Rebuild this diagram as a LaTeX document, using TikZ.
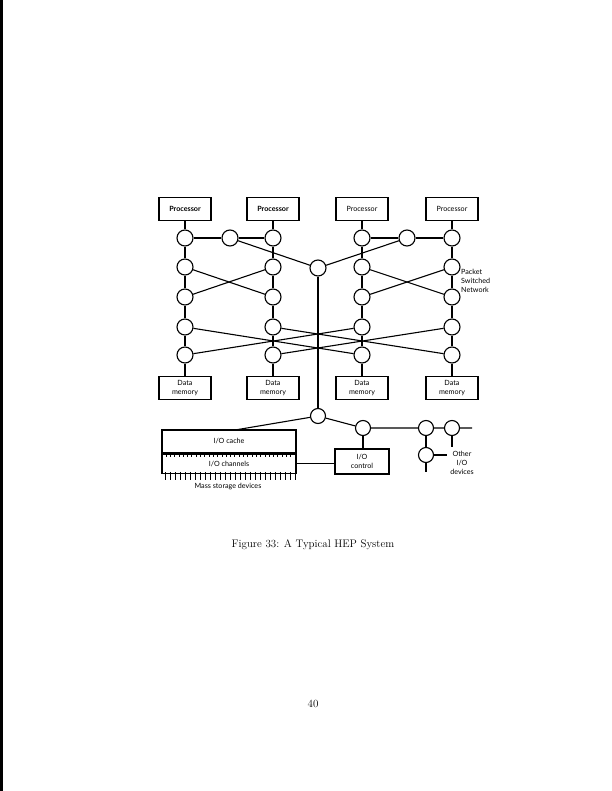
\documentclass[tikz,border=0pt]{standalone}
\usepackage{fontspec}
\newfontfamily\hepsans{Lato}
\usetikzlibrary{positioning}

\tikzset{
  sw/.style={circle, draw, line width=1.1bp, minimum size=16bp, inner sep=0pt},
  unit/.style={rectangle, draw, line width=1.1bp, minimum width=52bp, minimum height=23bp,
    inner sep=1bp, align=center, font=\hepsans\fontsize{7.2}{9}\selectfont},
  lbl/.style={inner sep=0pt, font=\hepsans\fontsize{7.2}{9}\selectfont},
  link/.style={line width=1.1bp},
  tick/.style={line width=0.7bp},
}

\begin{document}
\begin{tikzpicture}[x=1bp,y=-1bp]
    \useasboundingbox (0,0) rectangle (612,791);
    \fill (0,0) rectangle (3.3,791);
    % Switch nodes
    \node[sw] (c11) at (185,238) {}; %
    \node[sw] (c12) at (185,267) {}; %
    \node[sw] (c13) at (185,297) {}; %
    \node[sw] (c14) at (185,327) {}; %
    \node[sw] (c15) at (185,355) {}; %
    \node[sw] (c21) at (273,238) {}; %
    \node[sw] (c22) at (273,267) {}; %
    \node[sw] (c23) at (273,297) {}; %
    \node[sw] (c24) at (273,327) {}; %
    \node[sw] (c25) at (273,355) {}; %
    \node[sw] (c31) at (362,238) {}; %
    \node[sw] (c32) at (362,267) {}; %
    \node[sw] (c33) at (362,297) {}; %
    \node[sw] (c34) at (362,327) {}; %
    \node[sw] (c35) at (362,355) {}; %
    \node[sw] (c41) at (452,238) {}; %
    \node[sw] (c42) at (452,267) {}; %
    \node[sw] (c43) at (452,297) {}; %
    \node[sw] (c44) at (452,327) {}; %
    \node[sw] (c45) at (452,355) {}; %
    \node[sw] (m1) at (230,238) {}; %
    \node[sw] (m2) at (407,238) {}; %
    \node[sw] (hub) at (318,268) {}; %
    % Processors and memories
    \node[unit, above=8bp of c11] (p1) {\bfseries Processor}; %
    \node[unit, above=8bp of c21] (p2) {\bfseries Processor}; %
    \node[unit, above=8bp of c31] (p3) {Processor}; %
    \node[unit, above=8bp of c41] (p4) {Processor}; %
    \node[unit, below=12bp of c15] (d1) {Data\\memory}; %
    \node[unit, below=12bp of c25] (d2) {Data\\memory}; %
    \node[unit, below=12bp of c35] (d3) {Data\\memory}; %
    \node[unit, below=12bp of c45] (d4) {Data\\memory}; %
    \node[lbl, align=left, anchor=west] (psn) at (461,281) {Packet\\Switched\\Network}; %
    % I/O side
    \node[sw, minimum size=15bp] (b1) at (318,416) {}; %
    \node[sw, minimum size=15bp] (b2) at (363,428) {}; %
    \node[sw, minimum size=15bp] (b3) at (426,428) {}; %
    \node[sw, minimum size=15bp] (b4) at (452,428) {}; %
    \node[sw, minimum size=15bp] (b5) at (426,455) {}; %
    \node[unit, minimum width=134bp, minimum height=23bp] (cache) at (229,441.5) {I/O cache}; %
    \node[unit, minimum width=134bp, minimum height=19bp, below=0bp of cache] (chan) {I/O channels}; %
    \node[unit, minimum width=54bp, minimum height=25bp] (ctrl) at (362,461.5) {I/O\\control}; %
    \node[lbl] (mass) at (228,487) {Mass storage devices}; %
    \node[lbl, align=center] (oth) at (462,463) {Other\\I/O\\devices}; %
    \coordinate (cachein) at (235,430); %
    \coordinate (rend) at (472,428); %
    \coordinate (b4end) at (452,447); %
    \coordinate (b5end) at (426,472); %
    \coordinate (b5r) at (447,455); %
    \foreach \x in {166,170.3,...,294} \draw[tick] (\x,453) -- (\x,456.5);
    \foreach \x in {165,170,...,295} \draw[tick] (\x,472) -- (\x,479.5);
    % Edges
    \draw[link] (p1) -- (c11) -- (c12) -- (c13) -- (c14) -- (c15) -- (d1); %
    \draw[link] (p2) -- (c21) -- (c22) -- (c23) -- (c24) -- (c25) -- (d2); %
    \draw[link] (p3) -- (c31) -- (c32) -- (c33) -- (c34) -- (c35) -- (d3); %
    \draw[link] (p4) -- (c41) -- (c42) -- (c43) -- (c44) -- (c45) -- (d4); %
    \draw[link] (c11) -- (m1) -- (c21); %
    \draw[link] (c31) -- (m2) -- (c41); %
    \draw[link] (m1) -- (hub) -- (m2); %
    \draw[link] (c12) -- (c23); %
    \draw[link] (c13) -- (c22); %
    \draw[link] (c32) -- (c43); %
    \draw[link] (c33) -- (c42); %
    \draw[link] (c14) -- (c35); %
    \draw[link] (c15) -- (c34); %
    \draw[link] (c24) -- (c45); %
    \draw[link] (c25) -- (c44); %
    \draw[link] (hub) -- (b1); %
    \draw[link] (b1) -- (cachein); %
    \draw[link] (b1) -- (b2) -- (b3) -- (b4) -- (rend); %
    \draw[link] (b2) -- (b2 |- ctrl.north); %
    \draw[link] (chan.east) -- (chan.east -| ctrl.west); %
    \draw[link] (b4) -- (b4end); %
    \draw[link] (b3) -- (b5) -- (b5end); %
    \draw[link] (b5) -- (b5r); %
    % Caption
    \node[font=\fontsize{11}{13}\selectfont] (cap) at (313,545) {Figure 33: A Typical HEP System}; %
    \node[font=\fontsize{11}{13}\selectfont] (pg) at (313,704) {40}; %
\end{tikzpicture}
\end{document}
